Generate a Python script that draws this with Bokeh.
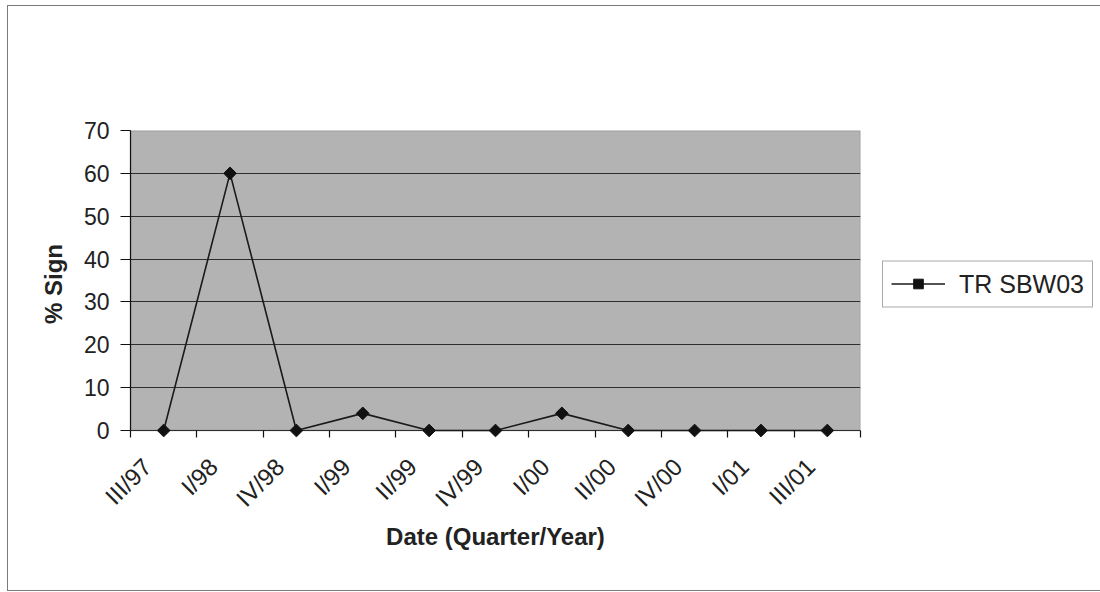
import math
from bokeh.plotting import figure
from bokeh.models import (FixedTicker, Legend, LegendItem, Range1d, BoxAnnotation,
                          CustomJSTickFormatter)
from bokeh.embed import file_html
from bokeh.resources import INLINE

quarters = ["III/97", "I/98", "IV/98", "I/99", "II/99", "IV/99",
            "I/00", "II/00", "IV/00", "I/01", "III/01"]
sign_pct = [0, 60, 0, 4, 0, 0, 4, 0, 0, 0, 0]
y_ticks = [0, 10, 20, 30, 40, 50, 60, 70]
series_name = "TR SBW03"

n = len(quarters)
x_idx = list(range(n))
bounds = [i - 0.5 for i in range(n + 1)]
LABEL_SHIFT = 0.25
label_ticks = [i - LABEL_SHIFT for i in x_idx]

FONT = "Liberation Sans"
Y_MIN, Y_MAX = y_ticks[0], y_ticks[-1]
PAD = 7 * (Y_MAX - Y_MIN) / 300.0  # room below zero so markers are not clipped

p = figure(frame_width=730, frame_height=307, output_backend="svg", toolbar_location=None,
           x_range=Range1d(-0.5, n - 0.5), y_range=Range1d(Y_MIN - PAD, Y_MAX),
           min_border_left=122, min_border_right=10,
           min_border_top=124, min_border_bottom=153)
p.styles = {"border": "1px solid #7a7a7a", "margin-left": "7px", "margin-top": "5px"}

p.background_fill_color = "white"
p.border_fill_color = "white"
p.outline_line_color = None

plot_area = BoxAnnotation(bottom=Y_MIN, top=Y_MAX, fill_color="#b3b3b3", fill_alpha=1.0,
                          line_color="#2a2a2a", line_width=1.3, level="image")
p.add_layout(plot_area)

p.xgrid.visible = False
p.ygrid.ticker = FixedTicker(ticks=y_ticks)
p.ygrid.grid_line_color = "#2f2f2f"
p.ygrid.grid_line_width = 1.2
p.ygrid.grid_line_alpha = 1.0
p.ygrid.level = "underlay"

# y axis
ya = p.yaxis[0]
ya.ticker = FixedTicker(ticks=y_ticks)
ya.bounds = (Y_MIN, Y_MAX)
ya.axis_line_color = "#111111"
ya.axis_line_width = 1.2
ya.major_tick_out = 10
ya.major_tick_in = 0
ya.major_tick_line_color = "#111111"
ya.minor_tick_line_color = None
ya.major_label_text_font = FONT
ya.major_label_text_font_size = "23px"
ya.major_label_text_color = "#222222"
ya.major_label_standoff = 11
ya.axis_label = "% Sign"
ya.axis_label_text_font = FONT
ya.axis_label_text_font_size = "24px"
ya.axis_label_text_font_style = "bold"
ya.axis_label_text_color = "#222222"
ya.axis_label_standoff = 14

# x axis
xa = p.xaxis[0]
xa.ticker = FixedTicker(ticks=label_ticks, minor_ticks=bounds)
xa.formatter = CustomJSTickFormatter(
    args=dict(labels=quarters, shift=LABEL_SHIFT),
    code="return labels[Math.round(tick + shift)];")
xa.axis_line_color = None
xa.major_tick_line_color = None
xa.minor_tick_line_color = "#111111"
xa.minor_tick_line_width = 1.2
xa.minor_tick_out = 0
xa.minor_tick_in = 7
xa.major_label_orientation = math.pi / 4
xa.major_label_text_font = FONT
xa.major_label_text_font_size = "24px"
xa.major_label_text_color = "#222222"
xa.major_label_standoff = 19
xa.axis_label = "Date (Quarter/Year)"
xa.axis_label_text_font = FONT
xa.axis_label_text_font_size = "24px"
xa.axis_label_text_font_style = "bold"
xa.axis_label_text_color = "#222222"
xa.axis_label_standoff = -1

ln = p.line(x_idx, sign_pct, line_color="#1a1a1a", line_width=1.6)
mk = p.scatter(x_idx, sign_pct, marker="square", size=9, angle=math.pi / 4,
               fill_color="#111111", line_color="#111111")

legend = Legend(items=[LegendItem(label=series_name, renderers=[ln, mk])],
                location="center_left", orientation="vertical")
legend.label_text_font = FONT
legend.label_text_font_size = "25px"
legend.label_text_color = "#222222"
legend.glyph_width = 54
legend.glyph_height = 24
legend.label_standoff = 14
legend.padding = 8
legend.margin = 22
legend.border_line_color = "#555555"
legend.border_line_width = 1
legend.background_fill_color = "white"
legend.background_fill_alpha = 1
p.add_layout(legend, "right")

open("out.html", "w").write(file_html(p, INLINE))
